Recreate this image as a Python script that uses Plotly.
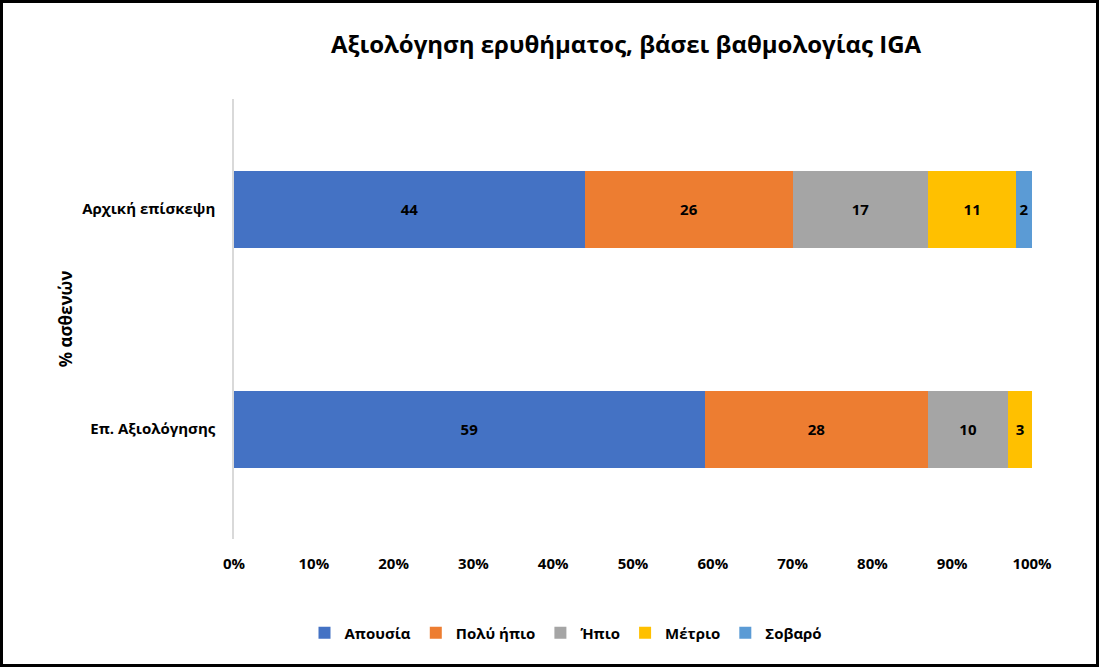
import plotly.graph_objects as go

categories = ["Επ. Αξιολόγησης", "Αρχική επίσκεψη"]
series_names = ["Απουσία", "Πολύ ήπιο", "Ήπιο", "Μέτριο", "Σοβαρό"]
apousia = [59, 44]
poly_ipio = [28, 26]
ipio = [10, 17]
metrio = [3, 11]
sovaro = [0, 2]
colors = ["#4472C4", "#ED7D31", "#A5A5A5", "#FFC000", "#5B9BD5"]
tick_vals = [0, 10, 20, 30, 40, 50, 60, 70, 80, 90, 100]
tick_text = [f"{v}%" for v in tick_vals]

FONT = "Open Sans"
W, H = 1099, 667
L, R, T, B = 234, 67, 99, 128

fig = go.Figure()
for name, vals, col in zip(series_names, [apousia, poly_ipio, ipio, metrio, sovaro], colors):
    fig.add_trace(go.Bar(
        y=categories, x=vals, name=name, orientation="h",
        marker=dict(color=col, line=dict(width=0)),
        text=[str(v) if v > 0 else "" for v in vals],
        textposition="inside", insidetextanchor="middle",
        textfont=dict(family=FONT, size=15, color="black", weight="bold"),
        constraintext="none",
        width=0.35,
    ))

pw = W - L - R
ph = H - T - B
fig.add_shape(type="rect", xref="paper", yref="paper",
              x0=(1.5 - L) / pw, x1=(W - 1.5 - L) / pw,
              y0=-(H - 1.5 - T - ph) / ph, y1=1 + (T - 1.5) / ph,
              line=dict(color="black", width=3), fillcolor="rgba(0,0,0,0)")

fig.update_layout(
    barmode="stack",
    width=W, height=H,
    margin=dict(l=L, r=R, t=T, b=B),
    paper_bgcolor="white", plot_bgcolor="white",
    title=dict(text="Αξιολόγηση ερυθήματος, βάσει βαθμολογίας IGA",
               x=626 / W, xanchor="center", y=1 - 45 / H, yanchor="middle",
               font=dict(family=FONT, size=24, color="black", weight="bold")),
    xaxis=dict(range=[0, 100], tickvals=tick_vals, ticktext=tick_text,
               showgrid=False, zeroline=False, showline=False, ticks="",
               ticklabelstandoff=14,
               tickfont=dict(family=FONT, size=15, color="black", weight="bold")),
    yaxis=dict(range=[-0.5, 1.5], showgrid=False, zeroline=False,
               showline=True, linecolor="#D9D9D9", linewidth=1.5, ticks="",
               ticklabelstandoff=14,
               title=dict(text="% ασθενών", standoff=5,
                          font=dict(family=FONT, size=17, color="black", weight="bold")),
               tickfont=dict(family=FONT, size=15, color="black", weight="bold")),
    legend=dict(orientation="h", x=(566 - L) / pw, xanchor="center",
                y=-(633 - T - ph) / ph, yanchor="middle",
                font=dict(family=FONT, size=15, color="black", weight="bold"),
                traceorder="normal", itemwidth=30),
    showlegend=True,
)

fig.write_html("out.html", config={"displayModeBar": False},
               post_script="document.body.style.margin='0';document.body.style.overflow='hidden';")
